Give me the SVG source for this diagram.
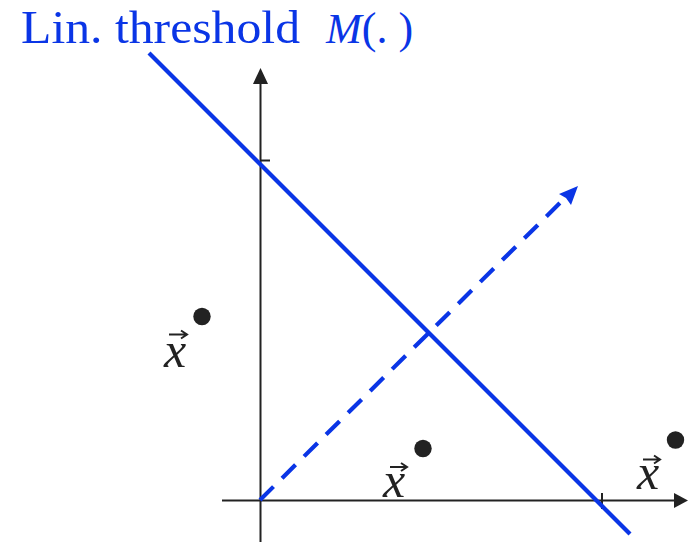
<svg xmlns="http://www.w3.org/2000/svg" width="688" height="542" viewBox="0 0 688 542">
<style>
.axis{stroke:#222;stroke-width:2;fill:none}
.head{fill:#222}
.blue{stroke:#0a35e6;stroke-width:4.2;fill:none}
.bhead{fill:#0a35e6}
.dot{fill:#222}
.title{font-family:"Liberation Serif",serif;font-size:47px;fill:#0a35e6}
.vx{font-family:"Liberation Serif",serif;font-style:italic;font-size:50px;fill:#222;text-anchor:middle}
.varrow{stroke:#222;stroke-width:2;fill:none;stroke-linejoin:miter}
</style>
<rect width="688" height="542" fill="#fff"/>
<g id="title">
<text class="title" x="21" y="43" textLength="279" lengthAdjust="spacingAndGlyphs">Lin. threshold</text>
<text class="title" x="326" y="43"><tspan font-style="italic" font-size="43">M</tspan><tspan font-size="44">(. )</tspan></text>
</g>
<g id="axes">
<line class="axis" x1="260.5" y1="542" x2="260.5" y2="84"/>
<polygon class="head" points="260.5,68 253,84 268,84"/>
<line class="axis" x1="260.5" y1="160.5" x2="270" y2="160.5"/>
<line class="axis" x1="222" y1="500.5" x2="674" y2="500.5"/>
<polygon class="head" points="688,500.5 674,493 674,508"/>
<line class="axis" x1="602" y1="493" x2="602" y2="509"/>
</g>
<g id="connectors">
<line id="threshold-line" class="blue" x1="149" y1="53" x2="630" y2="534"/>
<line id="normal-vector" class="blue" x1="260" y1="500" x2="566" y2="197" stroke-dasharray="19 12"/>
<polygon class="bhead" points="578,186 571,205 566,198 559,194"/>
</g>
<g id="point1">
<circle class="dot" cx="202" cy="316.5" r="8.7"/>
<text class="vx" x="175" y="367">x</text>
<path class="varrow" d="M169 334.5H186M181 330.5L187 334.5L181 338.5"/>
</g>
<g id="point2">
<circle class="dot" cx="423" cy="448.5" r="8.7"/>
<text class="vx" x="394" y="497">x</text>
<path class="varrow" d="M390 467H406M401 463L407 467L401 471"/>
</g>
<g id="point3">
<circle class="dot" cx="675.5" cy="440" r="8.7"/>
<text class="vx" x="648" y="489">x</text>
<path class="varrow" d="M643 459.5H659M654 455.5L660 459.5L654 463.5"/>
</g>
</svg>
